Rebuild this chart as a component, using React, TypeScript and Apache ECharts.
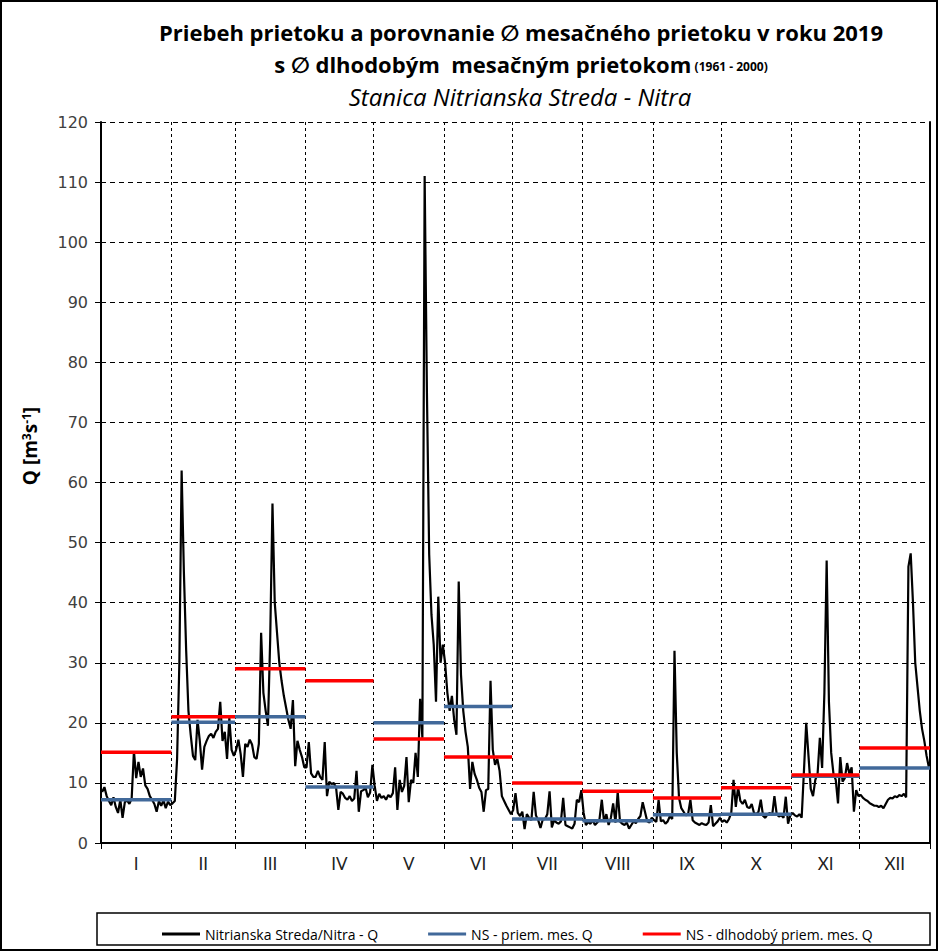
import React, { useEffect, useRef } from 'react';
import * as echarts from 'echarts';

// ---------- DATA ----------
const monthLabels = ['I', 'II', 'III', 'IV', 'V', 'VI', 'VII', 'VIII', 'IX', 'X', 'XI', 'XII'];
const monthDays = [31, 28, 31, 30, 31, 30, 31, 31, 30, 31, 30, 31];

// NS - priem. mes. Q (2019 monthly mean)
const monthlyMean2019 = [7.2, 20.1, 21.0, 9.3, 20.0, 22.7, 4.0, 3.7, 4.7, 4.8, 11.1, 12.5];
// NS - dlhodobý priem. mes. Q (1961-2000)
const longTermMean = [15.1, 21.0, 29.0, 27.0, 17.3, 14.3, 10.0, 8.6, 7.5, 9.2, 11.3, 15.8];

// Daily discharge Q [m3/s], 2019
const qJan = [8.5, 9.3, 7.8, 7.0, 6.3, 7.6, 6.0, 5.0, 7.2, 4.2, 6.8, 7.1, 6.5, 7.4, 15.3, 10.8, 13.5, 11.0, 12.4, 9.6, 9.0, 7.8, 7.2, 6.5, 5.2, 7.0, 6.2, 7.1, 5.8, 6.9, 6.3];
const qFeb = [6.6, 7.0, 14.0, 30.0, 62.0, 45.0, 32.0, 22.0, 18.0, 14.5, 13.8, 20.5, 17.0, 12.2, 16.0, 17.0, 17.8, 18.2, 17.5, 18.5, 19.0, 23.5, 17.0, 18.5, 14.0, 20.8, 15.5, 14.5];
const qMar = [15.5, 17.2, 14.8, 11.0, 16.5, 16.0, 17.2, 16.4, 14.3, 14.0, 16.5, 35.0, 25.0, 22.0, 19.5, 34.0, 56.5, 40.0, 35.0, 30.0, 27.0, 24.5, 22.5, 20.5, 19.0, 23.8, 12.8, 17.0, 15.5, 14.3, 12.6];
const qApr = [12.6, 16.8, 11.6, 11.0, 11.0, 12.0, 11.0, 10.5, 16.8, 7.8, 10.2, 9.8, 10.0, 9.2, 5.5, 8.5, 8.2, 7.5, 7.2, 7.8, 7.0, 7.4, 12.0, 5.2, 8.6, 8.8, 9.2, 7.6, 8.4, 13.0];
const qMay = [9.5, 7.0, 8.2, 7.5, 7.8, 7.2, 8.0, 7.6, 8.3, 12.6, 5.5, 10.5, 8.5, 9.5, 14.3, 6.8, 10.5, 10.0, 15.0, 11.0, 24.0, 17.5, 111.0, 75.0, 48.0, 38.0, 33.0, 23.5, 41.0, 30.0, 33.0];
const qJun = [30.0, 25.0, 22.0, 24.5, 20.5, 18.0, 43.5, 28.0, 22.0, 18.5, 16.0, 9.0, 13.5, 11.5, 10.5, 9.2, 8.5, 5.2, 8.8, 9.0, 27.0, 15.5, 13.0, 14.0, 12.0, 7.8, 7.0, 6.2, 5.5, 4.8];
const qJul = [5.5, 8.3, 5.0, 4.5, 5.2, 2.3, 4.8, 4.2, 3.8, 8.5, 4.6, 3.8, 2.5, 3.9, 4.0, 4.8, 8.6, 2.6, 3.8, 3.4, 3.2, 3.6, 7.5, 3.0, 2.8, 2.6, 2.4, 3.2, 7.2, 6.8, 8.8];
const qAug = [5.0, 3.0, 3.5, 3.2, 3.8, 3.0, 3.4, 4.0, 7.2, 3.5, 4.8, 3.0, 4.2, 6.6, 3.4, 8.5, 3.6, 3.2, 3.0, 3.4, 2.4, 3.0, 3.6, 3.3, 4.0, 4.5, 6.8, 5.2, 3.6, 3.4, 4.2];
const qSep = [3.8, 3.5, 7.2, 3.6, 3.8, 3.2, 3.6, 4.5, 4.0, 32.0, 15.0, 7.5, 5.8, 5.2, 4.6, 4.8, 7.2, 3.8, 3.4, 3.2, 3.0, 3.3, 3.1, 3.0, 3.4, 6.3, 2.8, 3.2, 3.6, 4.2];
const qOct = [3.5, 3.8, 3.4, 4.0, 5.0, 10.5, 6.0, 9.3, 7.0, 6.5, 7.2, 6.0, 5.8, 6.5, 5.0, 4.8, 5.2, 7.2, 4.5, 4.2, 4.8, 5.0, 4.6, 7.8, 4.8, 4.4, 4.6, 4.2, 7.7, 3.2, 4.6];
const qNov = [5.0, 4.6, 4.4, 4.8, 4.2, 12.0, 20.0, 14.5, 9.0, 7.8, 10.5, 11.5, 17.5, 12.5, 25.0, 47.0, 23.5, 15.0, 11.5, 10.5, 6.6, 14.3, 10.2, 10.8, 13.3, 11.5, 12.6, 5.2, 8.8, 7.8];
const qDec = [8.0, 7.5, 7.2, 7.0, 6.6, 6.4, 6.2, 6.2, 6.0, 6.2, 5.8, 6.5, 7.2, 7.5, 7.4, 7.8, 7.6, 8.0, 7.8, 8.2, 7.6, 46.0, 48.2, 40.0, 30.0, 26.0, 22.0, 19.0, 17.0, 14.5, 12.6];

const yMin = 0;
const yMax = 120;
const yInterval = 10;

const seriesNames = ['Nitrianska Streda/Nitra - Q', 'NS - priem. mes. Q', 'NS - dlhodobý priem. mes. Q'];

// ---------- BUILD ----------
const dailyQ = [qJan, qFeb, qMar, qApr, qMay, qJun, qJul, qAug, qSep, qOct, qNov, qDec].flat();
const monthStarts: number[] = [];
{
  let acc = 0;
  for (const d of monthDays) { monthStarts.push(acc); acc += d; }
  monthStarts.push(acc);
}
const totalDays = monthStarts[12];
const monthMids = monthDays.map((d, i) => monthStarts[i] + d / 2);

const dailyData = dailyQ.map((v, i) => [i + 0.5, v]);
const segData = (vals: number[]) => {
  const out: any[] = [];
  vals.forEach((v, i) => {
    out.push([monthStarts[i], v]);
    out.push([monthStarts[i + 1], v]);
    out.push([monthStarts[i + 1], '-']);
  });
  return out;
};

const FONT = '"Open Sans", Lato, "DejaVu Sans", sans-serif';
const BLUE = '#41699A';
const RED = '#FF0000';

export default function App() {
  const ref = useRef<HTMLDivElement>(null);
  useEffect(() => {
    document.body.style.margin = '0';
    if (!ref.current) return;
    const chart = echarts.init(ref.current, undefined, { renderer: 'svg' });
    const option: any = {
      animation: false,
      backgroundColor: '#ffffff',
      textStyle: { fontFamily: FONT },
      grid: { left: 101, right: 9, top: 122, bottom: 109, containLabel: false, outerBoundsMode: 'none' },
      legend: {
        left: 157,
        top: 922,
        itemGap: 50,
        itemWidth: 38,
        itemHeight: 3,
        icon: 'rect',
        textStyle: { fontFamily: FONT, fontSize: 14, color: '#000' },
        data: seriesNames,
      },
      xAxis: {
        type: 'value',
        min: 0,
        max: totalDays,
        axisLine: { show: true, lineStyle: { color: '#000', width: 2 } },
        axisTick: { show: true, length: 6, lineStyle: { color: '#000' }, customValues: monthStarts },
        axisLabel: {
          customValues: monthMids,
          formatter: (v: number) => {
            const idx = monthMids.findIndex((m) => Math.abs(m - v) < 0.01);
            return idx >= 0 ? monthLabels[idx] : '';
          },
          fontFamily: 'Lato, sans-serif',
          fontSize: 17,
          color: '#222',
          margin: 12,
        },
        splitLine: { show: true, lineStyle: { color: '#000', type: [3, 3], width: 1 } },
      },
      yAxis: [
        {
          type: 'value',
          min: yMin,
          max: yMax,
          interval: yInterval,
          axisLine: { show: true, lineStyle: { color: '#000', width: 2 } },
          axisTick: { show: true, length: 6, lineStyle: { color: '#000' } },
          axisLabel: { fontFamily: '"DejaVu Sans", sans-serif', fontSize: 16, color: '#404040', margin: 13 },
          splitLine: { show: true, lineStyle: { color: '#000', type: [5, 4], width: 1 } },
        },
        {
          type: 'value',
          min: yMin,
          max: yMax,
          interval: yInterval,
          position: 'right',
          axisLine: { show: true, onZero: false, lineStyle: { color: '#000', width: 2 } },
          axisTick: { show: false },
          axisLabel: { show: false },
          splitLine: { show: false },
        },
      ],
      series: [
        {
          name: seriesNames[0],
          type: 'line',
          data: dailyData,
          showSymbol: false,
          symbol: 'none',
          lineStyle: { color: '#000', width: 2.2 },
          itemStyle: { color: '#000' },
          z: 2,
        },
        {
          name: seriesNames[1],
          type: 'line',
          data: segData(monthlyMean2019),
          showSymbol: false,
          symbol: 'none',
          connectNulls: false,
          lineStyle: { color: BLUE, width: 3.5 },
          itemStyle: { color: BLUE },
          z: 3,
        },
        {
          name: seriesNames[2],
          type: 'line',
          data: segData(longTermMean),
          showSymbol: false,
          symbol: 'none',
          connectNulls: false,
          lineStyle: { color: RED, width: 3.5 },
          itemStyle: { color: RED },
          z: 4,
        },
      ],
      graphic: [
        {
          type: 'rect',
          shape: { x: 1, y: 1, width: 936, height: 949 },
          style: { fill: 'none', stroke: '#000', lineWidth: 2 },
          silent: true,
        },
        {
          type: 'rect',
          shape: { x: 97, y: 913, width: 833, height: 32 },
          style: { fill: 'none', stroke: '#000', lineWidth: 1.5 },
          silent: true,
        },
        {
          type: 'text',
          x: 521,
          y: 21,
          style: {
            text: 'Priebeh prietoku a porovnanie ∅ mesačného prietoku v roku 2019',
            font: 'bold 22px ' + FONT,
            fill: '#000',
            textAlign: 'center',
            textVerticalAlign: 'top',
          },
        },
        {
          type: 'text',
          x: 521,
          y: 53,
          style: {
            text: '{a|s ∅ dlhodobým  mesačným prietokom} {b|(1961 - 2000)}',
            textAlign: 'center',
            textVerticalAlign: 'top',
            rich: {
              a: { font: 'bold 22px ' + FONT, fill: '#000', verticalAlign: 'bottom' },
              b: { font: 'bold 12px ' + FONT, fill: '#000', verticalAlign: 'bottom', padding: [0, 0, 3, 0] },
            },
          },
        },
        {
          type: 'text',
          x: 520,
          y: 84,
          style: {
            text: 'Stanica Nitrianska Streda - Nitra',
            font: 'italic 24px ' + FONT,
            fill: '#000',
            textAlign: 'center',
            textVerticalAlign: 'top',
          },
        },
        {
          type: 'text',
          x: 30,
          y: 446,
          rotation: Math.PI / 2,
          style: {
            text: '{a|Q [m}{s|3}{a|s}{s|-1}{a|]}',
            textAlign: 'center',
            textVerticalAlign: 'middle',
            rich: {
              a: { font: 'bold 19px ' + FONT, fill: '#000', verticalAlign: 'bottom' },
              s: { font: 'bold 12px ' + FONT, fill: '#000', verticalAlign: 'top' },
            },
          },
        },
      ],
    };
    chart.setOption(option);
    return () => chart.dispose();
  }, []);
  return <div ref={ref} style={{ width: 939, height: 952 }} />;
}
